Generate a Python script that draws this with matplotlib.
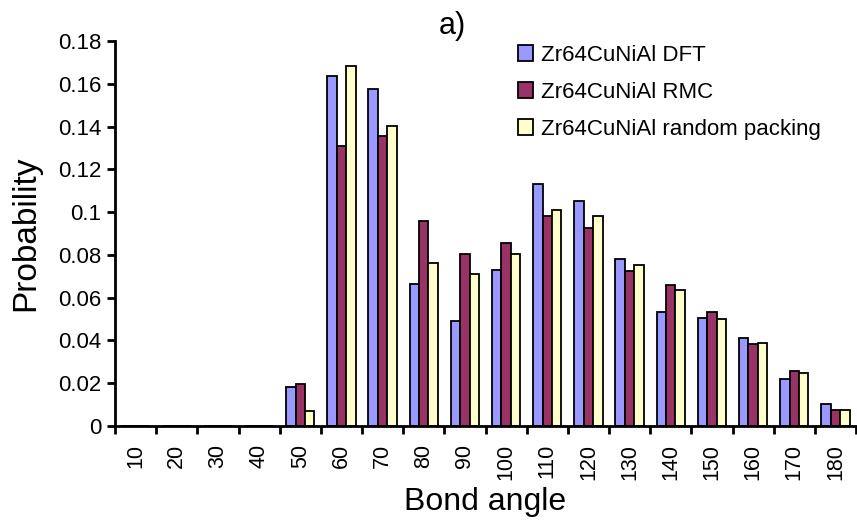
import numpy as np
import matplotlib.pyplot as plt

plt.rcParams['font.family'] = ['Liberation Sans', 'DejaVu Sans']

# DATA
angles = [10, 20, 30, 40, 50, 60, 70, 80, 90, 100, 110, 120, 130, 140, 150, 160, 170, 180]
dft = [0, 0, 0, 0, 0.0181, 0.1637, 0.1575, 0.0665, 0.0490, 0.0730, 0.1132, 0.1050,
       0.0782, 0.0535, 0.0505, 0.0410, 0.0222, 0.0104]
rmc = [0, 0, 0, 0, 0.0195, 0.1308, 0.1357, 0.0958, 0.0803, 0.0855, 0.0980, 0.0928,
       0.0724, 0.0659, 0.0535, 0.0382, 0.0259, 0.0075]
rnd = [0, 0, 0, 0, 0.0068, 0.1681, 0.1403, 0.0760, 0.0709, 0.0803, 0.1008, 0.0980,
       0.0752, 0.0635, 0.0498, 0.0390, 0.0250, 0.0075]
series_labels = ['Zr64CuNiAl DFT', 'Zr64CuNiAl RMC', 'Zr64CuNiAl random packing']
colors = ['#9999FF', '#993366', '#FFFFCC']


def main() -> None:
    fig = plt.figure(figsize=(8.57, 5.24), dpi=100)
    ax = fig.add_axes([115 / 857, 1 - 426 / 524, (856 - 115) / 857, (426 - 41) / 524])

    x = np.arange(len(angles))
    w = 0.23
    for i, (vals, lab, col) in enumerate(zip([dft, rmc, rnd], series_labels, colors)):
        ax.bar(x + (i - 1) * w, vals, width=w, color=col, edgecolor='black',
               linewidth=1.3, label=lab)

    ax.set_xlim(-0.5, len(angles) - 0.5)
    ax.set_ylim(0, 0.18)
    ax.set_yticks(np.arange(0, 0.181, 0.02))
    ax.set_yticklabels(['0', '0.02', '0.04', '0.06', '0.08', '0.1', '0.12',
                        '0.14', '0.16', '0.18'])

    # category labels centred, ticks on the boundaries
    ax.set_xticks(x)
    ax.set_xticklabels([str(a) for a in angles], rotation=90)
    ax.set_xticks(np.arange(-0.5, len(angles), 1.0), minor=True)
    ax.tick_params(axis='x', which='major', length=0, pad=13, labelsize=15.5)
    ax.tick_params(axis='x', which='minor', length=6, width=2, direction='out')
    ax.tick_params(axis='y', length=6, width=2, direction='out', labelsize=16, pad=4)

    for s in ['top', 'right']:
        ax.spines[s].set_visible(False)
    for s in ['left', 'bottom']:
        ax.spines[s].set_linewidth(2)

    ax.set_ylabel('Probability', fontsize=24, labelpad=12)
    ax.set_xlabel('Bond angle', fontsize=23, labelpad=5)
    fig.text(452 / 857, 1 - 26 / 524, 'a)', fontsize=22, ha='center', va='center')

    ax.legend(loc='upper left', bbox_to_anchor=(509 / 857, 1 - 36 / 524),
              bbox_transform=fig.transFigure, frameon=False, fontsize=16,
              handlelength=0.68, handleheight=0.68, handletextpad=0.35,
              labelspacing=0.72, borderaxespad=0)

    fig.savefig('out.png', dpi=100)


if __name__ == "__main__":
    main()
